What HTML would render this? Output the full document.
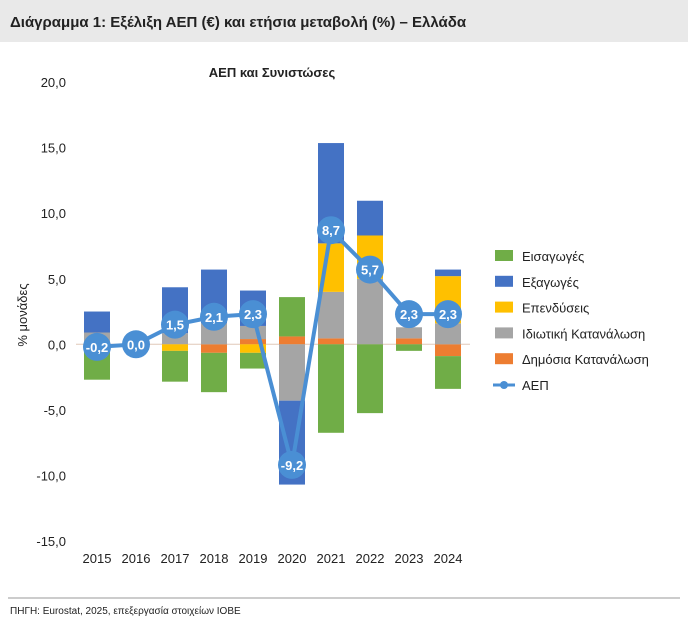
<!DOCTYPE html>
<html><head><meta charset="utf-8"><style>
body{margin:0;background:#fff;font-family:"Liberation Sans",sans-serif;}
svg text{font-family:"Liberation Sans",sans-serif;}
</style></head><body>
<svg id="chart" width="688" height="626" xmlns="http://www.w3.org/2000/svg">
<rect x="0" y="0" width="688" height="42" fill="#e9e9e9"/>
<text x="10" y="27" font-size="15" font-weight="bold" fill="#222">Διάγραμμα 1: Εξέλιξη ΑΕΠ (€) και ετήσια μεταβολή (%) – Ελλάδα</text>
<text x="272" y="77" font-size="13" font-weight="bold" fill="#222" text-anchor="middle">ΑΕΠ και Συνιστώσες</text>
<text transform="translate(27,315) rotate(-90)" font-size="13" fill="#222" text-anchor="middle">% μονάδες</text>
<g id="yticks"></g><g id="bars"></g><g id="xlabels"></g><g id="line"></g><g id="legend"></g>
<line x1="8" y1="598" x2="680" y2="598" stroke="#999" stroke-width="1"/>
<text x="10" y="614" font-size="10" fill="#222">ΠΗΓΗ: Eurostat, 2025, επεξεργασία στοιχείων ΙΟΒΕ</text>
</svg>
<script>
const years=["2015","2016","2017","2018","2019","2020","2021","2022","2023","2024"];
const dimosia=[0,0,0,-0.65,0.4,0.6,0.45,0,0.45,-0.9];
const idiotiki=[0.9,0.3,0.85,1.6,1.0,-4.3,3.55,5.0,0.85,1.6];
const ependyseis=[0,0,-0.5,0,-0.65,0,3.7,3.3,0,3.6];
const exagoges=[1.6,0,3.5,4.1,2.7,-6.4,7.65,2.65,0,0.5];
const eisagoges=[-2.7,-0.3,-2.35,-3.0,-1.2,3.0,-6.75,-5.25,-0.5,-2.5];
const aep=[-0.2,0.0,1.5,2.1,2.3,-9.2,8.7,5.7,2.3,2.3];
const yTicks=[20,15,10,5,0,-5,-10,-15];
const NS="http://www.w3.org/2000/svg";
const Y=v=>344.3-v*13.11;
const X=i=>97+i*39;
const bw=26;
function mk(tag,attrs,parent){const e=document.createElementNS(NS,tag);for(const k in attrs)e.setAttribute(k,attrs[k]);parent.appendChild(e);return e;}
const yt=document.getElementById('yticks');
yTicks.forEach(v=>{const t=mk('text',{x:66,y:Y(v)+5,'font-size':13,fill:'#222','text-anchor':'end'},yt);
t.textContent=v.toFixed(1).replace('.',',');

});
const zl=mk('line',{x1:76,x2:470,y1:Y(0),y2:Y(0),stroke:'#e0c8b8','stroke-width':1},yt);


const series=[["dimosia",dimosia,"#ed7d31"],["idiotiki",idiotiki,"#a5a5a5"],["ependyseis",ependyseis,"#ffc000"],["exagoges",exagoges,"#4472c4"],["eisagoges",eisagoges,"#70ad47"]];
const bg=document.getElementById('bars');
years.forEach((yr,i)=>{let pos=0,neg=0;
series.forEach(([nm,arr,col])=>{const v=arr[i];if(!v)return;let a,b;
if(v>0){a=pos;b=pos+v;pos=b;}else{a=neg;b=neg+v;neg=b;}
const r=mk('rect',{x:X(i)-bw/2,y:Math.min(Y(a),Y(b)),width:bw,height:Math.abs(Y(a)-Y(b)),fill:col},bg);

});
const t=mk('text',{x:X(i),y:563,'font-size':13,fill:'#222','text-anchor':'middle'},document.getElementById('xlabels'));
t.textContent=yr;

});
const lg=document.getElementById('line');
const pl=mk('polyline',{points:aep.map((v,i)=>X(i)+','+Y(v)).join(' '),fill:'none',stroke:'#4a8fd4','stroke-width':4},lg);


aep.forEach((v,i)=>{const c=mk('circle',{cx:X(i),cy:Y(v),r:14,fill:'#4a8fd4'},lg);


const t=mk('text',{x:X(i),y:Y(v)+5,'font-size':13,'font-weight':'bold',fill:'#fff','text-anchor':'middle'},lg);
t.textContent=v.toFixed(1).replace('.',',');

});
const legItems=[["Εισαγωγές","#70ad47"],["Εξαγωγές","#4472c4"],["Επενδύσεις","#ffc000"],["Ιδιωτική Κατανάλωση","#a5a5a5"],["Δημόσια Κατανάλωση","#ed7d31"]];
const leg=document.getElementById('legend');
legItems.forEach(([n,c],k)=>{const y=256+k*25.8;
const r=mk('rect',{x:495,y:y-6,width:18,height:11,fill:c},leg);


const t=mk('text',{x:522,y:y+5,'font-size':13,fill:'#222'},leg);
t.textContent=n;

});
const ly=256+5*25.8;
const ll=mk('line',{x1:493,x2:515,y1:ly,y2:ly,stroke:'#4a8fd4','stroke-width':3},leg);


const lc=mk('circle',{cx:504,cy:ly,r:4,fill:'#4a8fd4'},leg);


const lt=mk('text',{x:522,y:ly+5,'font-size':13,fill:'#222'},leg);
lt.textContent="ΑΕΠ";


</script>
</body></html>
